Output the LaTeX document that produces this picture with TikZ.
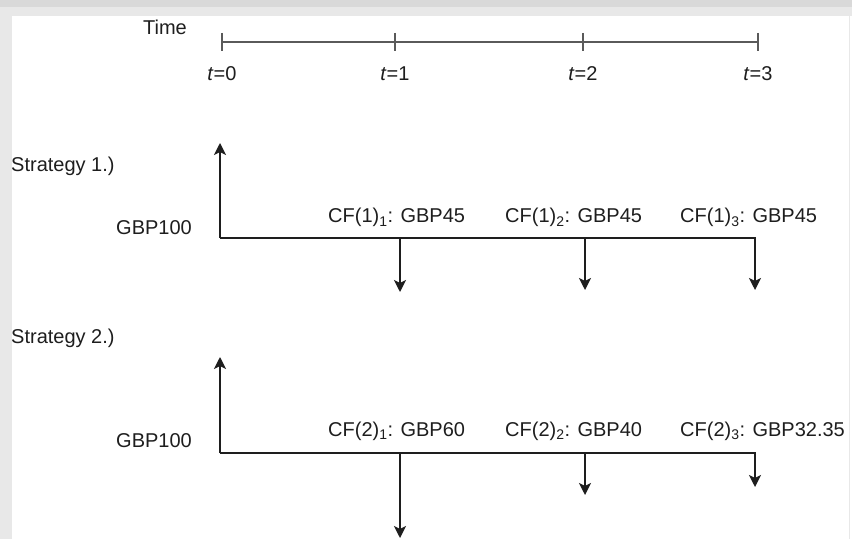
\documentclass[tikz,border=0pt]{standalone}
\usepackage{fontspec}
\setmainfont{Liberation Sans}
\usetikzlibrary{arrows.meta}
\definecolor{marcoA}{HTML}{D9D9D9}
\definecolor{marcoB}{HTML}{E8E8E8}
\definecolor{grisEje}{HTML}{5A5A5A}
\definecolor{tinta}{HTML}{1E1E1E}
\tikzset{
  txt/.style={inner sep=0pt, text=tinta, font=\fontsize{20bp}{24bp}\selectfont},
  eje/.style={draw=grisEje, line width=1.8bp},
  flujo/.style={draw=tinta, line width=1.7bp, -{Stealth[length=12bp,width=12bp,inset=3bp]}}
}

\begin{document}
\begin{tikzpicture}[x=1bp,y=-1bp]
		%Marco
		\useasboundingbox (0,0) rectangle (852,539);
		\fill[marcoA] (0,0) rectangle (852,7);
		\fill[marcoB] (0,7) rectangle (852,16);
		\fill[marcoB] (0,16) rectangle (12,539);
		\fill[white] (12,16) rectangle (852,539);
		\draw[marcoB, line width=1bp] (849,16) -- (849,539);

		%Eje de tiempo
		\node [txt, anchor=base] (tiempo) at (165,35) {Time};
		\foreach \i/\x in {0/222,1/395,2/583,3/758} {
			\coordinate (t\i) at (\x,42);
			\draw[eje] ([yshift=9bp]t\i) -- ([yshift=-9bp]t\i);
			\node [txt, anchor=base] (lt\i) at (\x,81) {\textit{t}=\i};
		}
		\draw[eje] (t0)--(t3);

		%Estrategia 1
		\node [txt, anchor=base west] (est1) at (11,172) {Strategy 1.)};
		\node [txt, anchor=base east] (inv1) at (192,235) {GBP100};
		\coordinate (o1) at (220,238);
		\coordinate (u1) at (220,143);
		\coordinate (a1) at (400,238);
		\coordinate (a1d) at (400,292);
		\coordinate (b1) at (585,238);
		\coordinate (b1d) at (585,290);
		\coordinate (c1d) at (755,290);
		\node [txt, anchor=base west] (cf11) at (328,223) {CF(1)\textsubscript{1}: GBP45};
		\node [txt, anchor=base west] (cf12) at (505,223) {CF(1)\textsubscript{2}: GBP45};
		\node [txt, anchor=base west] (cf13) at (680,223) {CF(1)\textsubscript{3}: GBP45};

		%Flechas 1
		\draw[flujo] (o1)--(u1);
		\draw[flujo] (o1)-|(c1d);
		\draw[flujo] (a1)--(a1d);
		\draw[flujo] (b1)--(b1d);

		%Estrategia 2
		\node [txt, anchor=base west] (est2) at (11,343) {Strategy 2.)};
		\node [txt, anchor=base east] (inv2) at (192,447) {GBP100};
		\coordinate (o2) at (220,453);
		\coordinate (u2) at (220,357);
		\coordinate (a2) at (400,453);
		\coordinate (a2d) at (400,538);
		\coordinate (b2) at (585,453);
		\coordinate (b2d) at (585,495);
		\coordinate (c2d) at (755,487);
		\node [txt, anchor=base west] (cf21) at (328,436) {CF(2)\textsubscript{1}: GBP60};
		\node [txt, anchor=base west] (cf22) at (505,436) {CF(2)\textsubscript{2}: GBP40};
		\node [txt, anchor=base west] (cf23) at (680,436) {CF(2)\textsubscript{3}: GBP32.35};

		%Flechas 2
		\draw[flujo] (o2)--(u2);
		\draw[flujo] (o2)-|(c2d);
		\draw[flujo] (a2)--(a2d);
		\draw[flujo] (b2)--(b2d);
\end{tikzpicture}
\end{document}
